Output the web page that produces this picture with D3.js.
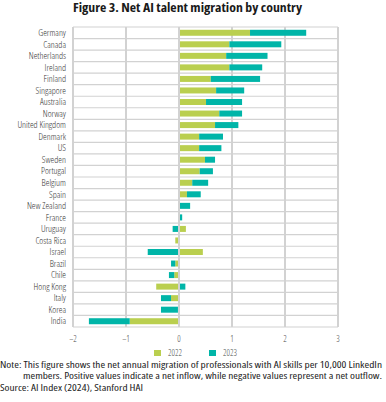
<!DOCTYPE html>
<html>
<head>
<meta charset="utf-8">
<script src="https://cdn.jsdelivr.net/npm/d3@7"></script>
<style>
  body { margin: 0; background: #fff; }
  svg text { font-family: "Open Sans", sans-serif; }
</style>
</head>
<body>
<div id="chart"></div>
<script>
// net AI talent migration per 10,000 LinkedIn members
var countries = ['Germany', 'Canada', 'Netherlands', 'Ireland', 'Finland', 'Singapore', 'Australia',
  'Norway', 'United Kingdom', 'Denmark', 'US', 'Sweden', 'Portugal', 'Belgium', 'Spain',
  'New Zealand', 'France', 'Uruguay', 'Costa Rica', 'Israel', 'Brazil', 'Chile', 'Hong Kong',
  'Italy', 'Korea', 'India']
var v2022 = [1.34, 0.95, 0.89, 0.95, 0.6, 0.7, 0.51, 0.76, 0.68, 0.38, 0.38, 0.49, 0.39, 0.25, 0.15,
  0, 0, 0.13, -0.07, 0.45, -0.07, -0.09, -0.43, -0.15, -0.02, -0.93]
var v2023 = [1.06, 0.98, 0.78, 0.62, 0.93, 0.53, 0.68, 0.43, 0.44, 0.45, 0.42, 0.19, 0.25, 0.3, 0.26,
  0.21, 0.06, -0.12, 0, -0.59, -0.08, -0.1, 0.12, -0.19, -0.32, -0.77]
var years = ['2022', '2023']
var ticks = [-2, -1, 0, 1, 2, 3]
var colors = ['#bacf4f', '#00b5a8']

var width = 386, height = 402
var margin = {top: 27, left: 73, right: 48, bottom: 75}

var svg = d3.select('#chart').append('svg')
  .attr('width', width).attr('height', height)

svg.append('text')
  .attr('x', 73).attr('y', 12)
  .attr('textLength', 229).attr('lengthAdjust', 'spacingAndGlyphs')
  .style('font-weight', 'bold').style('font-size', '12.5px').style('fill', '#1a1a1a')
  .style('font-stretch', 'semi-condensed')
  .text('Figure 3. Net AI talent migration by country')

var rows = countries.map((c, i) => ({country: c, '2022': v2022[i], '2023': v2023[i]}))

var x = d3.scaleLinear().domain([-2, 3]).range([margin.left, width - margin.right])
var y = d3.scaleBand().domain(countries)
  .range([margin.top, height - margin.bottom])
  .paddingInner(0.48).paddingOuter(0.24)

var series = d3.stack().keys(years).offset(d3.stackOffsetDiverging)(rows)

var g = svg.append('g')

// horizontal grid, one line per row boundary
var step = y.step()
g.selectAll('line.h').data(d3.range(countries.length + 1)).join('line')
  .attr('class', 'h')
  .attr('x1', x(-2)).attr('x2', x(3))
  .attr('y1', i => margin.top + i*step).attr('y2', i => margin.top + i*step)
  .attr('stroke', '#d2d2d2').attr('stroke-width', 1.2)

g.selectAll('line.v').data(ticks).join('line')
  .attr('class', 'v')
  .attr('x1', d => x(d)).attr('x2', d => x(d))
  .attr('y1', margin.top).attr('y2', height - margin.bottom)
  .attr('stroke', '#d2d2d2').attr('stroke-width', 2)

g.selectAll('g.s').data(series).join('g')
  .attr('class', 's')
  .attr('fill', (d, i) => colors[i])
  .selectAll('rect').data(d => d).join('rect')
  .attr('x', d => x(Math.min(d[0], d[1])))
  .attr('width', d => Math.abs(x(d[1]) - x(d[0])))
  .attr('y', d => y(d.data.country))
  .attr('height', y.bandwidth())

// zero line sits over the bars
g.append('line')
  .attr('x1', x(0)).attr('x2', x(0))
  .attr('y1', margin.top).attr('y2', height - margin.bottom)
  .attr('stroke', '#d2d2d2').attr('stroke-width', 2)

g.selectAll('text.c').data(countries).join('text')
  .attr('class', 'c')
  .attr('x', 66).attr('y', d => y(d) + y.bandwidth()/2)
  .attr('dy', '0.35em').attr('text-anchor', 'end')
  .style('font-size', '9.3px').style('font-weight', 300)
  .style('font-stretch', 'condensed').style('fill', '#333')
  .text(d => d)

g.selectAll('text.t').data(ticks).join('text')
  .attr('class', 't')
  .attr('x', d => x(d)).attr('y', 342)
  .attr('text-anchor', 'middle')
  .style('font-size', '8.5px').style('font-weight', 300).style('fill', '#444')
  .style('font-stretch', 'condensed')
  .text(d => d < 0 ? '\u2013' + Math.abs(d) : d)

var leg = svg.selectAll('g.leg').data(years).join('g')
  .attr('class', 'leg')
  .attr('transform', (d, i) => `translate(${154 + i*55},350)`)
leg.append('rect').attr('width', 7).attr('height', 6).attr('fill', (d, i) => colors[i])
leg.append('text').attr('x', 14).attr('y', 6)
  .style('font-size', '8.5px').style('font-weight', 300).style('fill', '#444')
  .style('font-stretch', 'condensed').text(d => d)

// note lines fitted to the widths they take in the figure
var notes = [
  {t: 'Note: This figure shows the net annual migration of professionals with AI skills per 10,000 LinkedIn', x: 0, y: 368, w: 382},
  {t: 'members. Positive values indicate a net inflow, while negative values represent a net outflow.', x: 23, y: 379, w: 359},
  {t: 'Source: AI Index (2024), Stanford HAI', x: 0, y: 391, w: 143}
]
svg.selectAll('text.note').data(notes).join('text')
  .attr('class', 'note')
  .attr('x', d => d.x).attr('y', d => d.y)
  .attr('textLength', d => d.w).attr('lengthAdjust', 'spacingAndGlyphs')
  .style('font-size', '8.5px').style('fill', '#222')
  .style('font-stretch', 'semi-condensed')
  .text(d => d.t)
</script>
</body>
</html>
